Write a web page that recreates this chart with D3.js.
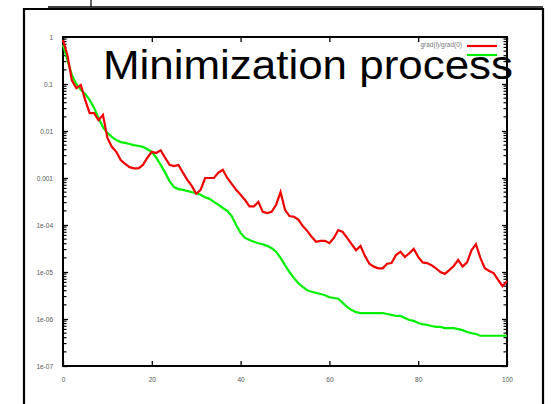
<!DOCTYPE html>
<html>
<head>
<meta charset="utf-8">
<script src="https://cdn.jsdelivr.net/npm/d3@7"></script>
<style>
  html, body { margin: 0; padding: 0; background: #fff; }
  svg { display: block; }
  text { font-family: "Liberation Sans", Arial, sans-serif; }
</style>
</head>
<body>
<script>
// Iteration index
const iterations = d3.range(0, 101);

// grad(i)/grad(0) for the red run
const redValues = [
  0.86, 0.41, 0.12, 0.082, 0.095, 0.046, 0.024, 0.024, 0.017, 0.022,
  0.0071, 0.0046, 0.0036, 0.0024, 0.0020, 0.0017, 0.0016, 0.0016, 0.0019, 0.0027,
  0.0036, 0.0034, 0.0039, 0.0027, 0.0019, 0.0018, 0.0019, 0.0013, 9.1e-4, 6.8e-4,
  4.6e-4, 5.6e-4, 1.0e-3, 1.0e-3, 1.0e-3, 1.3e-3, 1.5e-3, 1.0e-3, 7.5e-4, 5.6e-4,
  4.4e-4, 3.4e-4, 2.5e-4, 2.5e-4, 3.1e-4, 1.9e-4, 1.8e-4, 1.9e-4, 2.7e-4, 5.0e-4,
  2.1e-4, 1.55e-4, 1.5e-4, 1.3e-4, 9.5e-5, 7.5e-5, 5.6e-5, 4.4e-5, 4.6e-5, 4.6e-5,
  4.1e-5, 5.3e-5, 7.8e-5, 7.1e-5, 5.3e-5, 3.9e-5, 2.9e-5, 3.6e-5, 2.2e-5, 1.5e-5,
  1.3e-5, 1.2e-5, 1.2e-5, 1.5e-5, 1.55e-5, 2.3e-5, 2.7e-5, 2.1e-5, 2.5e-5, 3.1e-5,
  2.1e-5, 1.6e-5, 1.55e-5, 1.4e-5, 1.2e-5, 1.0e-5, 9.1e-6, 1.1e-5, 1.34e-5, 1.8e-5,
  1.3e-5, 1.6e-5, 2.9e-5, 3.9e-5, 2.0e-5, 1.2e-5, 1.05e-5, 9.5e-6, 6.8e-6, 5.0e-6,
  6.4e-6
];

// grad(i)/grad(0) for the green run
const greenValues = [
  0.68, 0.32, 0.155, 0.10, 0.075, 0.061, 0.046, 0.031, 0.019, 0.012,
  0.0091, 0.0075, 0.0064, 0.0058, 0.0056, 0.0053, 0.0050, 0.0048, 0.0046, 0.0041,
  0.0036, 0.0027, 0.0019, 0.0013, 8.6e-4, 6.4e-4, 5.8e-4, 5.6e-4, 5.3e-4, 5.0e-4,
  4.8e-4, 4.4e-4, 3.9e-4, 3.6e-4, 3.1e-4, 2.7e-4, 2.3e-4, 2.0e-4, 1.55e-4, 1.0e-4,
  6.8e-5, 5.3e-5, 4.8e-5, 4.4e-5, 4.1e-5, 3.9e-5, 3.6e-5, 3.2e-5, 2.7e-5, 2.0e-5,
  1.4e-5, 1.0e-5, 7.5e-6, 5.8e-6, 4.8e-6, 4.1e-6, 3.8e-6, 3.6e-6, 3.4e-6, 3.2e-6,
  2.9e-6, 2.8e-6, 2.7e-6, 2.2e-6, 1.8e-6, 1.55e-6, 1.4e-6, 1.34e-6, 1.34e-6, 1.34e-6,
  1.34e-6, 1.34e-6, 1.34e-6, 1.28e-6, 1.22e-6, 1.16e-6, 1.16e-6, 1.05e-6, 9.5e-7, 9.1e-7,
  8.2e-7, 7.8e-7, 7.5e-7, 7.1e-7, 6.8e-7, 6.8e-7, 6.4e-7, 6.4e-7, 6.4e-7, 6.1e-7,
  5.8e-7, 5.3e-7, 5.0e-7, 4.8e-7, 4.4e-7, 4.4e-7, 4.4e-7, 4.4e-7, 4.4e-7, 4.4e-7,
  4.4e-7
];

const xTicks = [0, 20, 40, 60, 80, 100];
const xTickLabels = ["0", "20", "40", "60", "80", "100"];
const yTicks = [1, 0.1, 0.01, 0.001, 1e-4, 1e-5, 1e-6, 1e-7];
const yTickLabels = ["1", "0.1", "0.01", "0.001", "1e-04", "1e-05", "1e-06", "1e-07"];
const legendLabel = "grad(i)/grad(0)";
const titleText = "Minimization process";

const W = 551, H = 404;
const plot = { left: 63, right: 507, top: 37, bottom: 366 };

const svg = d3.select("body").append("svg")
  .attr("width", W).attr("height", H);

// Outer frame
svg.append("path")
  .attr("d", `M24,${H + 2} V9 H543 V${H + 2}`)
  .attr("fill", "none").attr("stroke", "#000").attr("stroke-width", 2.2);
svg.append("line")
  .attr("x1", 48).attr("x2", 543).attr("y1", 7).attr("y2", 7)
  .attr("stroke", "#000").attr("stroke-width", 1.6);
svg.append("line")
  .attr("x1", 91).attr("x2", 91).attr("y1", 0).attr("y2", 7)
  .attr("stroke", "#000").attr("stroke-width", 1.2);

const x = d3.scaleLinear().domain([0, 100]).range([plot.left, plot.right]);
const y = d3.scaleLog().domain([1e-7, 1]).range([plot.bottom, plot.top]);

// Minor log ticks (2..9 in each decade)
const minor = [];
for (let e = -7; e < 0; e++) {
  for (let m = 2; m <= 9; m++) minor.push(m * Math.pow(10, e));
}

const tickColor = "#000";
const labelColor = "#555";

// Left axis
const gLeft = svg.append("g").attr("transform", `translate(${plot.left},0)`);
gLeft.call(d3.axisLeft(y).tickValues(yTicks).tickFormat((d, i) => yTickLabels[i])
  .tickSize(-5).tickPadding(10))
  .call(g => g.select(".domain").remove());
gLeft.selectAll(".tick line").attr("stroke", tickColor).attr("stroke-width", 1.3);
gLeft.selectAll(".tick text").attr("fill", labelColor).attr("font-size", 6.5);
gLeft.selectAll(".minor").data(minor).join("line").attr("class", "minor")
  .attr("x1", 0).attr("x2", 3.5)
  .attr("y1", d => y(d)).attr("y2", d => y(d))
  .attr("stroke", tickColor).attr("stroke-width", 1.2);

// Right axis (mirror ticks)
const gRight = svg.append("g").attr("transform", `translate(${plot.right},0)`);
gRight.call(d3.axisRight(y).tickValues(yTicks).tickFormat("").tickSize(-5))
  .call(g => g.select(".domain").remove());
gRight.selectAll(".tick line").attr("stroke", tickColor).attr("stroke-width", 1.3);
gRight.selectAll(".minor").data(minor).join("line").attr("class", "minor")
  .attr("x1", 0).attr("x2", -3.5)
  .attr("y1", d => y(d)).attr("y2", d => y(d))
  .attr("stroke", tickColor).attr("stroke-width", 1.2);

// Bottom axis
const gBottom = svg.append("g").attr("transform", `translate(0,${plot.bottom})`);
gBottom.call(d3.axisBottom(x).tickValues(xTicks).tickFormat((d, i) => xTickLabels[i])
  .tickSize(-5).tickPadding(11))
  .call(g => g.select(".domain").remove());
gBottom.selectAll(".tick line").attr("stroke", tickColor).attr("stroke-width", 1.3);
gBottom.selectAll(".tick text").attr("fill", labelColor).attr("font-size", 6.5);

// Top axis (mirror ticks)
const gTop = svg.append("g").attr("transform", `translate(0,${plot.top})`);
gTop.call(d3.axisTop(x).tickValues(xTicks).tickFormat("").tickSize(-5))
  .call(g => g.select(".domain").remove());
gTop.selectAll(".tick line").attr("stroke", tickColor).attr("stroke-width", 1.3);

// Plot border
svg.append("rect")
  .attr("x", plot.left).attr("y", plot.top)
  .attr("width", plot.right - plot.left).attr("height", plot.bottom - plot.top)
  .attr("fill", "none").attr("stroke", "#000").attr("stroke-width", 2);

// Series
const line = d3.line()
  .x((d, i) => x(iterations[i]))
  .y(d => y(d))
  .curve(d3.curveLinear);

svg.append("path").datum(greenValues)
  .attr("d", line).attr("fill", "none")
  .attr("stroke", "#00f000").attr("stroke-width", 2.2)
  .attr("stroke-linejoin", "miter");
svg.append("path").datum(redValues)
  .attr("d", line).attr("fill", "none")
  .attr("stroke", "#f00000").attr("stroke-width", 2.2)
  .attr("stroke-linejoin", "miter");

// Legend
svg.append("text")
  .attr("x", 462).attr("y", 47)
  .attr("text-anchor", "end")
  .attr("fill", "#777").attr("font-size", 6.5)
  .text(legendLabel);
svg.append("line")
  .attr("x1", 467).attr("x2", 497).attr("y1", 46).attr("y2", 46)
  .attr("stroke", "#f00000").attr("stroke-width", 2.2);
svg.append("line")
  .attr("x1", 467).attr("x2", 497).attr("y1", 55).attr("y2", 55)
  .attr("stroke", "#00f000").attr("stroke-width", 2.2);

// Title
svg.append("text")
  .attr("x", 103).attr("y", 79)
  .attr("fill", "#000").attr("font-size", 41)
  .attr("textLength", 410).attr("lengthAdjust", "spacingAndGlyphs")
  .text(titleText);
</script>
</body>
</html>
